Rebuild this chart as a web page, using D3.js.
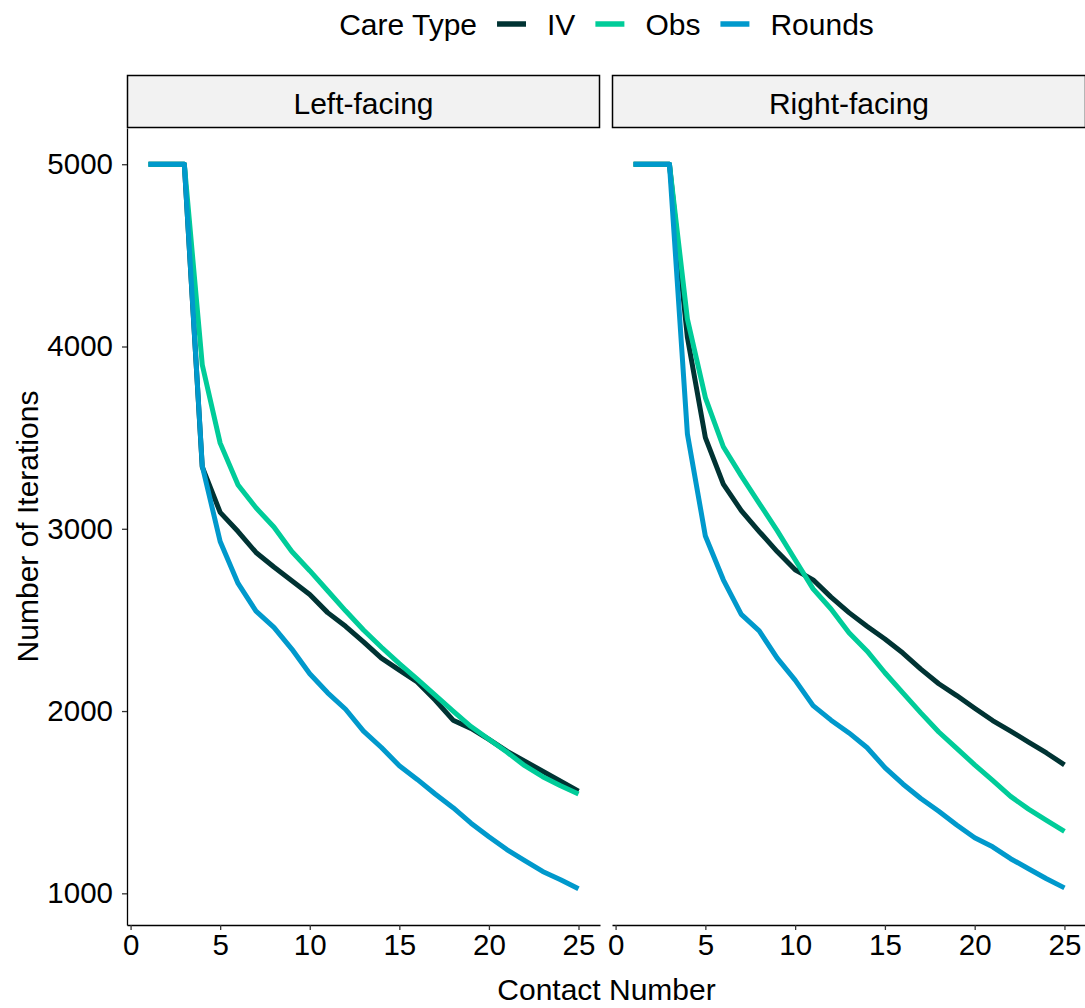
<!DOCTYPE html>
<html>
<head>
<meta charset="utf-8">
<script src="https://cdn.jsdelivr.net/npm/d3@7"></script>
<style>
  body { margin: 0; background: #fff; }
  svg text { font-family: "Liberation Sans", Arial, sans-serif; fill: #000; }
</style>
</head>
<body>
<div id="chart"></div>
<script>
// data
const contactNumber = [1, 2, 3, 4, 5, 6, 7, 8, 9, 10, 11, 12, 13, 14, 15, 16, 17, 18, 19, 20, 21, 22, 23, 24, 25];
const careTypes = ["IV", "Obs", "Rounds"];
const facets = ["Left-facing", "Right-facing"];
const xTicks = [0, 5, 10, 15, 20, 25];
const yTicks = [1000, 2000, 3000, 4000, 5000];

const leftIV     = [5000, 5000, 5000, 3340, 3090, 2985, 2870, 2790, 2715, 2640, 2540, 2465, 2380, 2290, 2225, 2160, 2060, 1950, 1905, 1845, 1780, 1725, 1670, 1615, 1560];
const leftObs    = [5000, 5000, 5000, 3900, 3470, 3240, 3115, 3010, 2875, 2770, 2660, 2550, 2445, 2350, 2260, 2175, 2088, 2000, 1915, 1845, 1775, 1700, 1640, 1590, 1545];
const leftRounds = [5000, 5000, 5000, 3345, 2930, 2700, 2548, 2459, 2340, 2205, 2100, 2010, 1890, 1800, 1700, 1625, 1545, 1470, 1385, 1310, 1240, 1180, 1120, 1075, 1025];

const rightIV     = [5000, 5000, 5000, 4050, 3500, 3245, 3100, 2985, 2875, 2775, 2720, 2625, 2540, 2465, 2395, 2318, 2230, 2150, 2085, 2015, 1948, 1890, 1830, 1770, 1705];
const rightObs    = [5000, 5000, 5000, 4150, 3720, 3450, 3290, 3140, 2990, 2830, 2670, 2560, 2430, 2330, 2210, 2100, 1990, 1885, 1795, 1705, 1620, 1532, 1462, 1400, 1340];
const rightRounds = [5000, 5000, 5000, 3520, 2960, 2720, 2530, 2440, 2290, 2170, 2030, 1950, 1880, 1800, 1690, 1600, 1520, 1450, 1375, 1305, 1255, 1190, 1135, 1080, 1030];

const colors = ["#003333", "#00CC99", "#0099CC"];

const series = {
  "Left-facing": [leftIV, leftObs, leftRounds],
  "Right-facing": [rightIV, rightObs, rightRounds]
};

// layout
const W = 1085, H = 1008;
const panelTop = 128, panelBottom = 925;
const stripTop = 75;
const panels = [
  {name: facets[0], x0: 127, x1: 600},
  {name: facets[1], x0: 612, x1: 1086}
];
const fontSize = 30, tickFont = 29.5;

const svg = d3.select("#chart").append("svg")
  .attr("width", W)
  .attr("height", H);

// scales with ggplot style 5% expansion
const xExt = d3.extent(contactNumber);
const xPad = (xExt[1] - xExt[0]) * 0.05;
const allY = [].concat(...Object.values(series).flat());
const yExt = d3.extent(allY);
const yPad = (yExt[1] - yExt[0]) * 0.05;

const y = d3.scaleLinear()
  .domain([yExt[0] - yPad, yExt[1] + yPad])
  .range([panelBottom, panelTop]);

panels.forEach(function(p, i) {
  const x = d3.scaleLinear()
    .domain([xExt[0] - xPad, xExt[1] + xPad])
    .range([p.x0, p.x1]);

  // strip
  svg.append("rect")
    .attr("x", p.x0 + 0.5)
    .attr("y", stripTop + 0.5)
    .attr("width", p.x1 - p.x0 - 1)
    .attr("height", panelTop - stripTop - 1)
    .attr("fill", "#f2f2f2")
    .attr("stroke", "#000")
    .attr("stroke-width", 1.5);
  svg.append("text")
    .attr("x", (p.x0 + p.x1) / 2)
    .attr("y", (stripTop + panelTop) / 2 + 12)
    .attr("text-anchor", "middle")
    .style("font-size", fontSize + "px")
    .text(p.name);

  // lines
  const line = d3.line()
    .x((d, j) => x(contactNumber[j]))
    .y(d => y(d));
  series[p.name].forEach(function(vals, k) {
    svg.append("path")
      .datum(vals)
      .attr("d", line)
      .attr("fill", "none")
      .attr("stroke", colors[k])
      .attr("stroke-width", 5)
      .attr("stroke-linejoin", "round");
  });

  // X axis
  const xAxis = svg.append("g")
    .attr("transform", `translate(0, ${panelBottom})`)
    .call(d3.axisBottom(x).tickValues(xTicks).tickSize(5).tickPadding(4).tickSizeOuter(0));
  xAxis.select(".domain").attr("stroke", "#000").attr("stroke-width", 1.3);
  xAxis.selectAll(".tick line").attr("stroke", "#333").attr("stroke-width", 1.3);
  xAxis.selectAll("text").style("font-size", tickFont + "px").attr("fill", "#000")
    .attr("font-family", "Liberation Sans, Arial, sans-serif");

  // Y axis only on first panel
  if (i === 0) {
    const yAxis = svg.append("g")
      .attr("transform", `translate(${p.x0}, 0)`)
      .call(d3.axisLeft(y).tickValues(yTicks).tickFormat(d3.format("d")).tickSize(5).tickPadding(9).tickSizeOuter(0));
    yAxis.select(".domain").attr("stroke", "#000").attr("stroke-width", 1.3);
    yAxis.selectAll(".tick line").attr("stroke", "#333").attr("stroke-width", 1.3);
    yAxis.selectAll("text").style("font-size", tickFont + "px").attr("fill", "#000")
      .attr("font-family", "Liberation Sans, Arial, sans-serif");
  }
});

// axis titles
svg.append("text")
  .attr("x", (panels[0].x0 + panels[1].x1) / 2)
  .attr("y", 1000)
  .attr("text-anchor", "middle")
  .style("font-size", fontSize + "px")
  .text("Contact Number");

svg.append("text")
  .attr("transform", `translate(38, ${(panelTop + panelBottom) / 2}) rotate(-90)`)
  .attr("text-anchor", "middle")
  .style("font-size", fontSize + "px")
  .text("Number of Iterations");

// legend on top
const legend = svg.append("g");
const legY = 24;
let cx = 0;
const title = legend.append("text")
  .attr("x", cx)
  .attr("y", legY + 11)
  .style("font-size", fontSize + "px")
  .text("Care Type");
cx += title.node().getComputedTextLength() + 20;
careTypes.forEach(function(name, k) {
  legend.append("line")
    .attr("x1", cx).attr("x2", cx + 29)
    .attr("y1", legY).attr("y2", legY)
    .attr("stroke", colors[k])
    .attr("stroke-width", 5.5);
  cx += 29 + 21;
  const t = legend.append("text")
    .attr("x", cx)
    .attr("y", legY + 11)
    .style("font-size", fontSize + "px")
    .text(name);
  cx += t.node().getComputedTextLength() + 20;
});
const legW = cx - 20;
legend.attr("transform", `translate(${(panels[0].x0 + panels[1].x1) / 2 - legW / 2}, 0)`);
</script>
</body>
</html>
